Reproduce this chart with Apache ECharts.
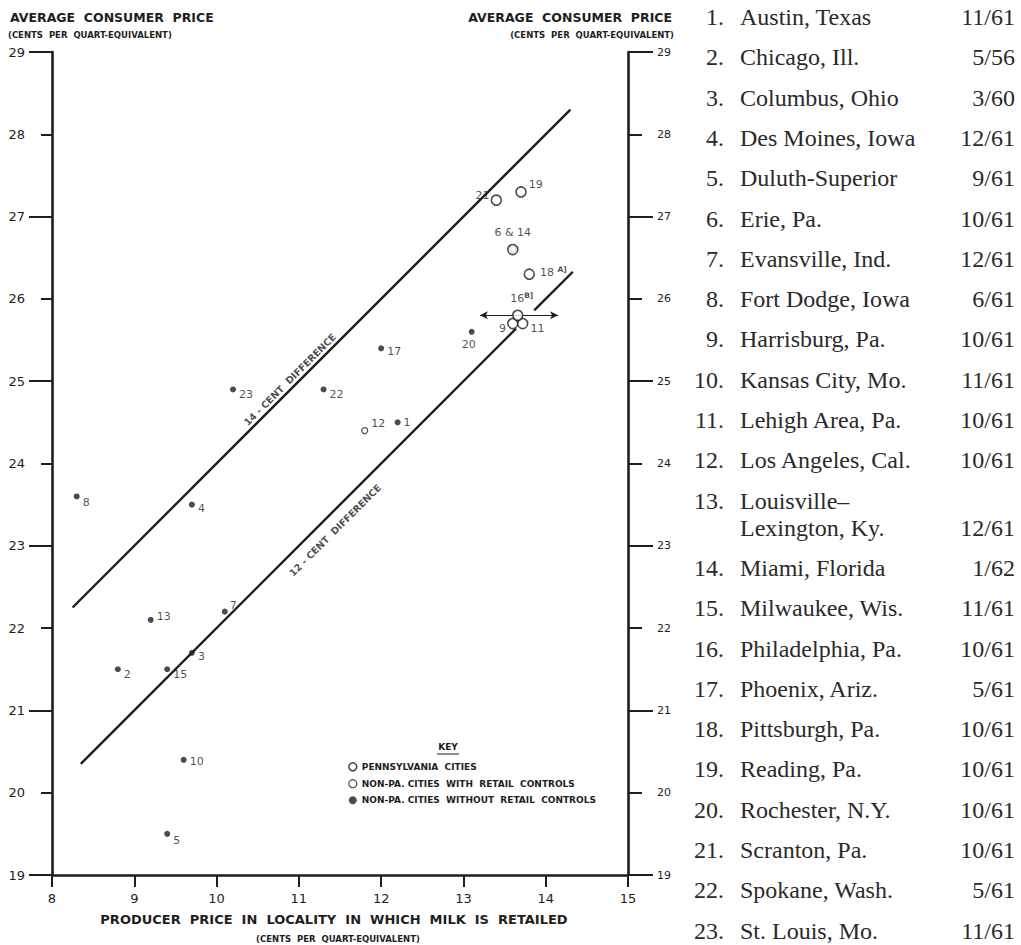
<!DOCTYPE html>
<html>
<head>
<meta charset="utf-8">
<script src="https://cdn.jsdelivr.net/npm/echarts@6/dist/echarts.min.js"></script>
<style>
html,body{margin:0;padding:0;background:#fff;}
#chart{width:1021px;height:945px;}
</style>
</head>
<body>
<div id="chart"></div>
<script>
// ---------- data ----------
const cityNames = ['Austin, Texas','Chicago, Ill.','Columbus, Ohio','Des Moines, Iowa','Duluth-Superior','Erie, Pa.','Evansville, Ind.','Fort Dodge, Iowa','Harrisburg, Pa.','Kansas City, Mo.','Lehigh Area, Pa.','Los Angeles, Cal.','Louisville–\nLexington, Ky.','Miami, Florida','Milwaukee, Wis.','Philadelphia, Pa.','Phoenix, Ariz.','Pittsburgh, Pa.','Reading, Pa.','Rochester, N.Y.','Scranton, Pa.','Spokane, Wash.','St. Louis, Mo.'];
const priceDates = ['11/61','5/56','3/60','12/61','9/61','10/61','12/61','6/61','10/61','11/61','10/61','10/61','12/61','1/62','11/61','10/61','5/61','10/61','10/61','10/61','10/61','5/61','11/61'];
const producerPrice = [12.2, 8.8, 9.7, 9.7, 9.4, 13.6, 10.1, 8.3, 13.6, 9.6, 13.72, 11.8, 9.2, 13.6, 9.4, 13.66, 12.0, 13.8, 13.7, 13.1, 13.4, 11.3, 10.2];
const consumerPrice = [24.5, 21.5, 21.7, 23.5, 19.5, 26.6, 22.2, 23.6, 25.7, 20.4, 25.7, 24.4, 22.1, 26.6, 21.5, 25.8, 25.4, 26.3, 27.3, 25.6, 27.2, 24.9, 24.9];
const cityGroup = ['none','none','none','none','none','pa','none','none','pa','none','pa','ctrl','none','ctrl','none','pa','none','pa','pa','none','pa','none','none'];
const groupNames = {pa:'PENNSYLVANIA  CITIES', ctrl:'NON-PA. CITIES  WITH  RETAIL  CONTROLS', none:'NON-PA. CITIES  WITHOUT  RETAIL  CONTROLS'};
const xRange = [8, 15];
const yRange = [19, 29];
const philaRange = [13.2, 14.15];          // horizontal range arrow for Philadelphia
const diff14 = {text:'14 - CENT  DIFFERENCE', diff:14, segments:[[8.25, 14.3]], note:[10.89, 25.02]};
const diff12 = {text:'12 - CENT  DIFFERENCE', diff:12, segments:[[8.35, 13.64],[13.86, 14.33]], note:[11.44, 23.19]};

// ---------- styles ----------
const ink = '#1e1e1e';
const sans = '"DejaVu Sans", Arial, sans-serif';
const serif = '"Liberation Serif", "DejaVu Serif", serif';

const labelSpots = {
  1:['right',[0,0]], 2:['right',[0,5]], 3:['right',[0,4]], 4:['right',[0,4]], 5:['right',[0,7]],
  6:['top',[0,-1]], 7:['right',[-1,-6]], 8:['right',[0,6]], 9:['left',[2,5]], 10:['right',[0,2]],
  11:['right',[-1,5]], 12:['right',[0,-7]], 13:['right',[0,-3]], 15:['right',[0,5]],
  16:['top',[4,-1]], 17:['right',[0,3]], 18:['right',[2,-2]], 19:['right',[-1,-7]], 20:['bottom',[-3,0]],
  21:['left',[2,-5]], 22:['right',[0,5]], 23:['right',[0,5]]
};
const labelText = {6:'6 & 14', 16:'16{s|B]}', 18:'18 {s|A]}'};

function pointLabel(num){
  const spot = labelSpots[num];
  if(!spot) return {show:false};
  return {
    show:true, position:spot[0], offset:spot[1], distance:3,
    formatter: labelText[num] || String(num),
    fontFamily:sans, fontSize:11, color:ink, lineHeight:14,
    rich:{s:{fontSize:7.5, fontWeight:'bold', fontFamily:sans, color:ink, lineHeight:8, verticalAlign:'top'}}
  };
}

const groupStyle = {
  pa:   {symbol:'circle', symbolSize:10, itemStyle:{color:'#fff', borderColor:ink, borderWidth:1.6}},
  ctrl: {symbol:'circle', symbolSize:6,  itemStyle:{color:'#fff', borderColor:ink, borderWidth:1.2}},
  none: {symbol:'circle', symbolSize:6,  itemStyle:{color:ink, borderWidth:0}}
};

const scatterSeries = ['none','ctrl','pa'].map(g => {
  const data = [];
  cityNames.forEach((n,i) => {
    if(cityGroup[i] !== g) return;
    data.push({value:[producerPrice[i], consumerPrice[i]], name:n, label:pointLabel(i+1)});
  });
  return Object.assign({
    type:'scatter', name:groupNames[g], data:data, z:5,
    emphasis:{disabled:true}
  }, groupStyle[g]);
});

function diffSeries(d){
  return d.segments.map(seg => ({
    type:'line', silent:true, symbol:'none', z:3,
    data: seg.map(x => [x, x + d.diff]),
    lineStyle:{color:ink, width:2.4}
  }));
}
function noteSeries(d){
  return {
    type:'scatter', silent:true, symbolSize:0, z:4,
    data:[{value:d.note}],
    label:{show:true, position:'inside', rotate:45, formatter:d.text,
      fontFamily:sans, fontSize:9.6, fontWeight:'bold', color:ink}
  };
}
const arrowSeries = {
  type:'line', silent:true, symbol:'none', data:[], z:4,
  markLine:{
    silent:true, symbol:['arrow','arrow'], symbolSize:[6,8], label:{show:false},
    lineStyle:{color:ink, width:1.2, type:'solid'},
    data:[[{coord:[philaRange[0], consumerPrice[15]]},{coord:[philaRange[1], consumerPrice[15]]}]]
  }
};

// ---------- axes ----------
// odd values: long ticks + labels; even values: minor (short) ticks, labels from a companion axis
function yMainAxis(pos, longLen, shortLen, margin, fs){
  return {
    type:'value', min:yRange[0], max:yRange[1], interval:2, position:pos, offset:0,
    splitLine:{show:false},
    axisLine:{show:true, onZero:false, lineStyle:{color:ink, width:2.6}},
    axisTick:{show:true, length:longLen, lineStyle:{color:ink, width:2}},
    minorTick:{show:true, splitNumber:2, length:shortLen, lineStyle:{color:ink, width:2}},
    axisLabel:{show:true, margin:margin, fontFamily:sans, fontSize:fs, color:ink}
  };
}
function yEvenLabelAxis(pos, margin, fs){
  return {
    type:'value', min:yRange[0], max:yRange[1], interval:1, position:pos, offset:0,
    splitLine:{show:false}, axisLine:{show:false}, axisTick:{show:false},
    axisLabel:{show:true, margin:margin, fontFamily:sans, fontSize:fs, color:ink,
      formatter: v => (v % 2 === 0 ? String(v) : '')}
  };
}

// ---------- right-hand list ----------
const listGraphics = [];
let rowY = 17;
cityNames.forEach((n,i) => {
  const lines = n.split('\n');
  const font = '24px ' + serif;
  listGraphics.push({type:'text', silent:true, style:{x:724, y:rowY, text:(i+1)+'.', font:font, fill:'#2a2a2a', textAlign:'right', textVerticalAlign:'middle'}});
  lines.forEach((ln,k) => {
    listGraphics.push({type:'text', silent:true, style:{x:740, y:rowY + k*27, text:ln, font:font, fill:'#2a2a2a', textAlign:'left', textVerticalAlign:'middle'}});
  });
  const lastY = rowY + (lines.length-1)*27;
  listGraphics.push({type:'text', silent:true, style:{x:1015, y:lastY, text:priceDates[i], font:font, fill:'#2a2a2a', textAlign:'right', textVerticalAlign:'middle'}});
  rowY = lastY + 40.3;
});

function txt(x, y, text, size, align, weight){
  return {type:'text', silent:true, style:{x:x, y:y, text:text, font:(weight||'bold')+' '+size+'px '+sans, fill:ink, textAlign:align, textVerticalAlign:'middle'}};
}

const chart = echarts.init(document.getElementById('chart'), null, {renderer:'svg'});
chart.setOption({
  animation:false,
  backgroundColor:'#fff',
  grid:{left:52, right:393, top:52, bottom:70, containLabel:false},
  xAxis:{
    type:'value', min:xRange[0], max:xRange[1], interval:1,
    splitLine:{show:false},
    axisLine:{show:true, onZero:false, lineStyle:{color:ink, width:2.6}},
    axisTick:{show:true, length:12, lineStyle:{color:ink, width:2}},
    axisLabel:{margin:17, fontFamily:sans, fontSize:13, color:ink}
  },
  yAxis:[
    yMainAxis('left', 23, 11, 27, 13),
    yEvenLabelAxis('left', 27, 13),
    yMainAxis('right', 25, 14, 29, 11),
    yEvenLabelAxis('right', 29, 11)
  ],
  legend:{
    data:[
      {name:groupNames.pa, itemStyle:{color:'#fff', borderColor:ink, borderWidth:1.6}},
      {name:groupNames.ctrl, itemStyle:{color:'#fff', borderColor:ink, borderWidth:1.2}},
      {name:groupNames.none}
    ],
    orient:'vertical', left:348, top:762, itemWidth:8, itemHeight:8, itemGap:7.5, padding:0,
    selectedMode:false,
    textStyle:{fontFamily:sans, fontSize:9, fontWeight:'bold', color:ink}
  },
  series: [].concat(diffSeries(diff14), diffSeries(diff12), [noteSeries(diff14), noteSeries(diff12), arrowSeries], scatterSeries),
  graphic: [
    txt(10, 17, 'AVERAGE  CONSUMER  PRICE', 12.5),
    txt(8, 35, '(CENTS  PER  QUART-EQUIVALENT)', 8.5),
    txt(672, 17, 'AVERAGE  CONSUMER  PRICE', 12.5, 'right'),
    txt(674, 35, '(CENTS  PER  QUART-EQUIVALENT)', 8.5, 'right'),
    txt(334, 919, 'PRODUCER  PRICE  IN  LOCALITY  IN  WHICH  MILK  IS  RETAILED', 13, 'center'),
    txt(338, 939, '(CENTS  PER  QUART-EQUIVALENT)', 8.5, 'center'),
    txt(448, 747, 'KEY', 9, 'center'),
    {type:'line', silent:true, shape:{x1:437, y1:754, x2:459, y2:754}, style:{stroke:ink, lineWidth:1}}
  ].concat(listGraphics)
});
</script>
</body>
</html>
